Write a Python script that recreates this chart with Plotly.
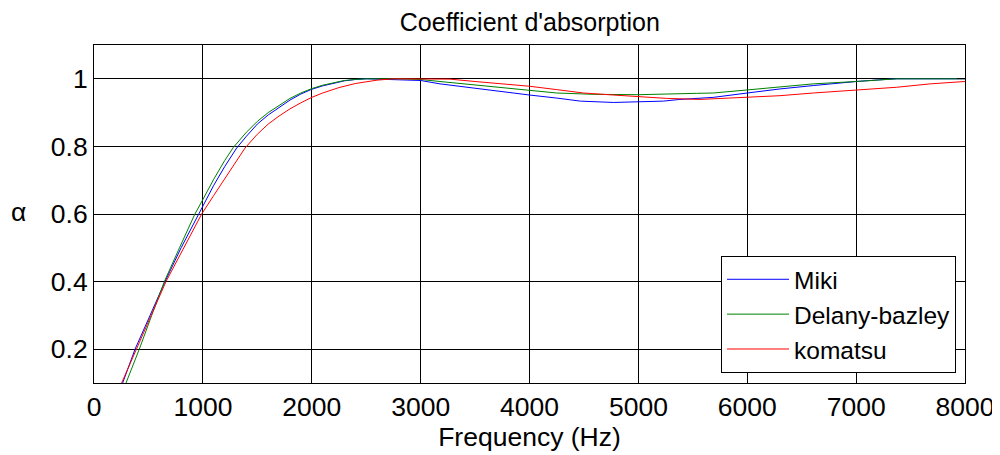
import plotly.graph_objects as go

# Miki (blue)
miki_f = [263, 377, 515, 652, 800, 958, 1000, 1100, 1200, 1310, 1400, 1500, 1600, 1700, 1800,
          1900, 2000, 2100, 2200, 2300, 2400, 2500, 2800, 3000, 3178, 3300, 3500, 3729, 4000,
          4250, 4467, 4770, 5000, 5230, 5382, 5688, 6000, 6300, 6606, 6912, 7000, 7218, 7373, 8000]
miki_a = [0.10, 0.20, 0.30, 0.40, 0.50, 0.60, 0.625, 0.685, 0.740, 0.795, 0.830, 0.866, 0.893, 0.916, 0.937,
          0.955, 0.969, 0.979, 0.987, 0.994, 0.998, 1.0, 0.997, 0.995, 0.985, 0.980, 0.972, 0.962, 0.952,
          0.943, 0.934, 0.930, 0.931, 0.934, 0.939, 0.945, 0.958, 0.970, 0.980, 0.990, 0.992, 0.997, 1.0, 1.0]

# Delany-bazley (green)
db_f = [294, 416, 530, 646, 785, 927, 1000, 1100, 1200, 1280, 1400, 1500, 1600, 1700, 1800,
        1900, 2000, 2100, 2200, 2300, 2400, 2500, 2800, 3000, 3178, 3400, 3500, 3729, 4000,
        4250, 4600, 5000, 5536, 5688, 6000, 6300, 6606, 7000, 7218, 7373, 8000]
db_a = [0.10, 0.20, 0.30, 0.40, 0.50, 0.60, 0.643, 0.703, 0.758, 0.797, 0.842, 0.874, 0.900, 0.922, 0.942,
        0.958, 0.971, 0.981, 0.989, 0.995, 0.998, 1.0, 1.0, 0.998, 0.992, 0.985, 0.980, 0.973, 0.965,
        0.958, 0.954, 0.953, 0.957, 0.958, 0.967, 0.977, 0.985, 0.992, 0.997, 1.0, 1.0]

# komatsu (red)
ko_f = [254, 386, 525, 661, 825, 989, 1100, 1200, 1300, 1387, 1500, 1600, 1700, 1800, 1900,
        2000, 2100, 2250, 2400, 2500, 2600, 2750, 3000, 3270, 3500, 3729, 4000, 4250, 4495,
        4770, 5000, 5260, 5566, 5700, 6000, 6300, 6606, 7000, 7373, 7680, 8000]
ko_a = [0.10, 0.20, 0.30, 0.40, 0.50, 0.60, 0.655, 0.705, 0.755, 0.795, 0.836, 0.866, 0.890, 0.911, 0.929,
        0.945, 0.958, 0.974, 0.986, 0.992, 0.996, 1.0, 1.0, 0.999, 0.992, 0.985, 0.978, 0.968, 0.958,
        0.952, 0.948, 0.942, 0.939, 0.941, 0.944, 0.950, 0.958, 0.967, 0.975, 0.985, 0.992]

x_ticks = [0, 1000, 2000, 3000, 4000, 5000, 6000, 7000, 8000]
y_ticks = [0.2, 0.4, 0.6, 0.8, 1.0]
y_tick_labels = ["0.2", "0.4", "0.6", "0.8", "1"]

FONT = "Liberation Sans, Arial, sans-serif"
FS = 26.5

fig = go.Figure()
fig.add_trace(go.Scatter(x=miki_f, y=miki_a, mode="lines", name="Miki",
                         line=dict(color="#0000ff", width=1)))
fig.add_trace(go.Scatter(x=db_f, y=db_a, mode="lines", name="Delany-bazley",
                         line=dict(color="#008000", width=1)))
fig.add_trace(go.Scatter(x=ko_f, y=ko_a, mode="lines", name="komatsu",
                         line=dict(color="#ff0000", width=1)))

axis_common = dict(showline=True, linecolor="black", linewidth=1, mirror="ticks",
                   ticks="inside", ticklen=8, tickcolor="black", automargin=False,
                   showgrid=True, gridcolor="black", gridwidth=1, zeroline=False,
                   tickfont=dict(family=FONT, size=FS, color="black"))

# page body has an 8px margin, so the figure is 8px smaller and margins shifted
fig.update_layout(
    width=992, height=447,
    margin=dict(l=86, r=35, t=37, b=72, autoexpand=False),
    paper_bgcolor="white", plot_bgcolor="white",
    font=dict(family=FONT, size=FS, color="black"),
    title=dict(text="Coefficient d'absorption", x=0.526, xanchor="center",
               y=0.968, yanchor="middle", automargin=False,
               font=dict(family=FONT, size=25, color="black")),
    xaxis=dict(range=[0, 8000], tickvals=x_ticks, ticktext=[str(v) for v in x_ticks],
               title=dict(text="Frequency (Hz)", font=dict(family=FONT, size=FS, color="black"),
                          standoff=2),
               **axis_common),
    yaxis=dict(range=[0.1, 1.1], tickvals=y_ticks, ticktext=y_tick_labels, **axis_common),
    legend=dict(x=0.9897, xanchor="right", y=0.03, yanchor="bottom",
                bgcolor="white", bordercolor="black", borderwidth=1,
                font=dict(family=FONT, size=24.5, color="black"),
                itemwidth=62, tracegroupgap=0),
    showlegend=True,
)

fig.add_annotation(text="α", xref="paper", yref="paper", x=-0.087, y=0.505,
                   xanchor="center", yanchor="middle", showarrow=False,
                   font=dict(family=FONT, size=FS, color="black"))

fig.write_html("out.html")
